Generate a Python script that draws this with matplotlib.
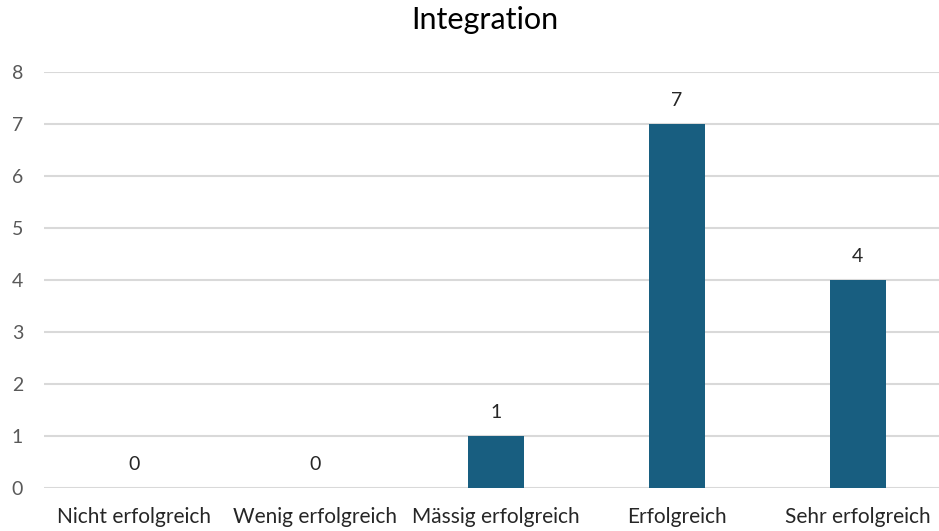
import matplotlib
matplotlib.use("Agg")
import matplotlib.pyplot as plt

categories = ["Nicht erfolgreich", "Wenig erfolgreich", "Mässig erfolgreich",
              "Erfolgreich", "Sehr erfolgreich"]
counts = [0, 0, 1, 7, 4]
yticks = [0, 1, 2, 3, 4, 5, 6, 7, 8]
title = "Integration"

plt.rcParams["font.family"] = ["Lato", "DejaVu Sans"]

W, H = 939, 531
fig = plt.figure(figsize=(W / 100, H / 100), dpi=100)
left, right, bottom, top = 44, 948, 488, 72
ax = fig.add_axes([left / W, 1 - bottom / H, (right - left) / W, (bottom - top) / H])

x = list(range(len(categories)))
bars = ax.bar(x, counts, width=0.31, color="#185e80", zorder=3)
for xi, v in zip(x, counts):
    ax.text(xi, v + 0.28, str(v), ha="center", va="bottom", fontsize=14, color="#262626")

ax.set_xlim(-0.5, len(categories) - 0.5)
ax.set_ylim(0, 8)
ax.set_yticks(yticks)
ax.set_xticks(x)
ax.set_xticklabels(categories)
ax.tick_params(axis="y", length=0, labelsize=14, colors="#595959", pad=15)
ax.tick_params(axis="x", length=0, labelsize=15, colors="#262626", pad=14)
ax.yaxis.grid(True, color="#d9d9d9", linewidth=1.5, zorder=0)
for s in ax.spines.values():
    s.set_visible(False)

fig.text(485 / W, 1 - 20 / H, title, ha="center", va="center", fontsize=22, color="#000000")

fig.savefig("out.png", dpi=100)
